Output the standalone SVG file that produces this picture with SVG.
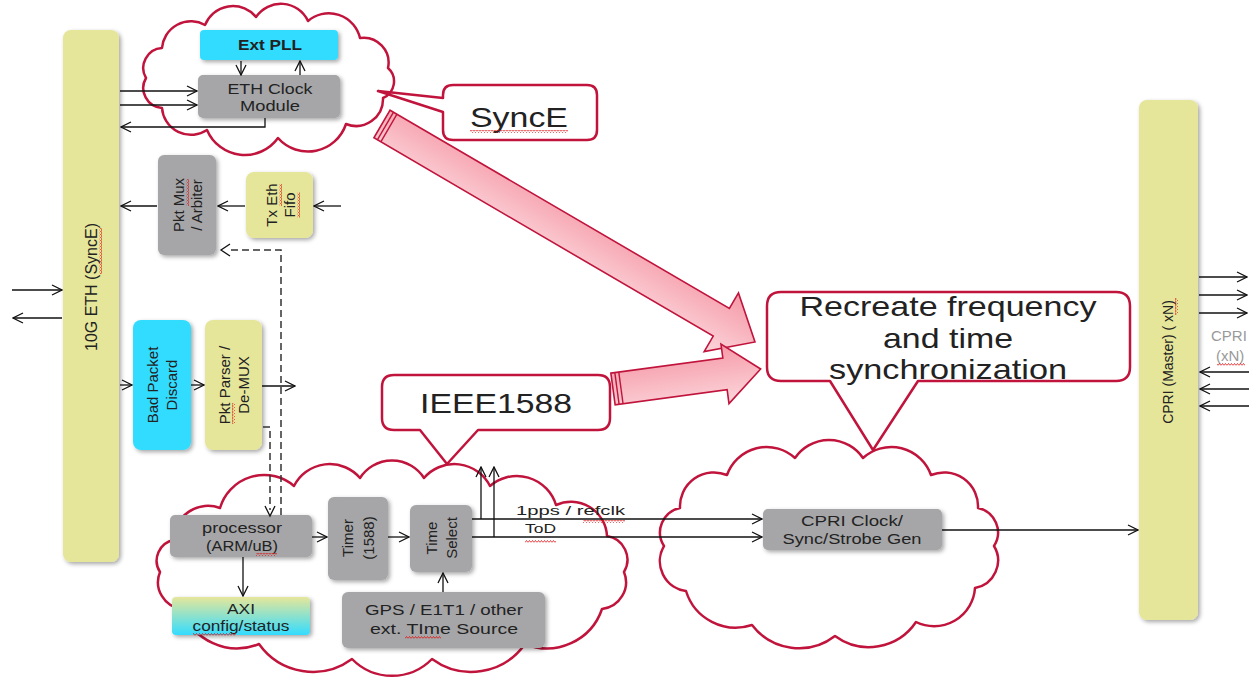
<svg xmlns="http://www.w3.org/2000/svg" width="1249" height="685" viewBox="0 0 1249 685">
<style>
.t{font-family:"Liberation Sans",Arial,sans-serif;fill:#222;font-size:14px}
.r{font-size:15px}
.big{font-family:"Liberation Sans",Arial,sans-serif;fill:#222;font-size:28px}
.cloud{fill:none;stroke:#c0143c;stroke-width:2.5;stroke-linejoin:round}
.callout{fill:#fff;stroke:#c0143c;stroke-width:2.5;stroke-linejoin:round}
.gray{fill:#a6a6a8;filter:url(#sh)}
.cyan{fill:#33dcff;filter:url(#sh)}
.yel{fill:#e6e69a;filter:url(#sh)}
.ln{fill:none;stroke:#111;stroke-width:1.3}
.arr{marker-end:url(#ah)}
.dash{fill:none;stroke:#333;stroke-width:1.5;stroke-dasharray:7 4}
.pink{fill:url(#pg);stroke:#c0143c;stroke-width:1.6;stroke-linejoin:miter}
.sq{fill:url(#sqp)}
</style>
<defs>
<filter id="sh" x="-20%" y="-20%" width="140%" height="140%">
<feDropShadow dx="2" dy="2" stdDeviation="2" flood-color="#000" flood-opacity="0.35"/>
</filter>
<marker id="ah" viewBox="0 0 12 12" refX="11" refY="6" markerWidth="12" markerHeight="12" markerUnits="userSpaceOnUse" orient="auto">
<path d="M1,1 L11,6 L1,11" fill="none" stroke="#111" stroke-width="1.3"/>
</marker>
<linearGradient id="pg" x1="0" y1="0" x2="0" y2="1">
<stop offset="0" stop-color="#f59aa7"/>
<stop offset="1" stop-color="#fcd6dc"/>
</linearGradient>
<linearGradient id="axi" x1="0" y1="0" x2="0" y2="1">
<stop offset="0" stop-color="#e6e69a"/>
<stop offset="1" stop-color="#33dcff"/>
</linearGradient>
<pattern id="sqp" width="3" height="3" patternUnits="userSpaceOnUse">
<path d="M0,2.5 L1.5,0.5 L3,2.5" fill="none" stroke="#e01010" stroke-width="0.8"/>
</pattern>
</defs>
<rect width="1249" height="685" fill="#fff"/>

<!-- clouds -->
<g id="clouds">
<path id="cloud-top" class="cloud" d="M146,78 A20,20 0 0 1 162,48 A29,29 0 0 1 205,25 A30,30 0 0 1 256,17 A30,30 0 0 1 308,21 A32,32 0 0 1 360,38 A25,25 0 0 1 388,68 A18,18 0 0 1 383,98 A27,27 0 0 1 346,124 A40,40 0 0 1 278,138 A41,41 0 0 1 207,130 A29,29 0 0 1 162,108 A20,20 0 0 1 146,78 Z"/>
<path id="cloud-bl" class="cloud" d="M160,572 A21,21 0 0 1 174,540 A34,34 0 0 1 220,508 A46,46 0 0 1 294,486 A40,40 0 0 1 360,478 A38,38 0 0 1 424,478 A40,40 0 0 1 490,486 A41,41 0 0 1 556,505 A36,36 0 0 1 607,536 A24,24 0 0 1 624,572 A27,27 0 0 1 602,609 A58,58 0 0 1 525,644 A66,66 0 0 1 432,659 A56,56 0 0 1 352,659 A66,66 0 0 1 259,644 A58,58 0 0 1 182,609 A27,27 0 0 1 160,572 Z"/>
<path id="cloud-r" class="cloud" d="M664,546 A25,25 0 0 1 680,508 A34,34 0 0 1 727,475 A42,42 0 0 1 795,458 A41,41 0 0 1 863,458 A42,42 0 0 1 931,475 A34,34 0 0 1 978,508 A25,25 0 0 1 994,546 A28,28 0 0 1 975,588 A41,41 0 0 1 916,622 A57,57 0 0 1 835,636 A59,59 0 0 1 752,625 A52,52 0 0 1 686,591 A30,30 0 0 1 664,546 Z"/>
</g>

<!-- big pink arrows -->
<g id="pink-arrows">
<g transform="translate(382,124) rotate(30.3)">
<polygon class="pink" points="0,-16 393,-16 393,-34 432,0 393,34 393,16 0,16"/>
<line x1="4" y1="-16" x2="4" y2="16" stroke="#c0143c" stroke-width="1.4"/>
<line x1="8" y1="-16" x2="8" y2="16" stroke="#c0143c" stroke-width="1.4"/>
</g>
<g transform="translate(613,389) rotate(-7.7)">
<polygon class="pink" points="0,-16 113,-16 113,-30 149,0 113,30 113,16 0,16"/>
<line x1="4" y1="-16" x2="4" y2="16" stroke="#c0143c" stroke-width="1.4"/>
<line x1="8" y1="-16" x2="8" y2="16" stroke="#c0143c" stroke-width="1.4"/>
</g>
</g>

<!-- callouts -->
<g id="callout-synce">
<path class="callout" d="M453,85 H587 Q597,85 597,95 V130 Q597,140 587,140 H453 Q443,140 443,130 V112 L378,91 L443,98 V95 Q443,85 453,85 Z"/>
<text class="big" x="519" y="127" text-anchor="middle" textLength="98" lengthAdjust="spacingAndGlyphs">SyncE</text>
<rect class="sq" x="470" y="130" width="98" height="3"/>
</g>
<g id="callout-ieee">
<path class="callout" d="M394,375 H598 Q610,375 610,387 V418 Q610,430 598,430 H478 L447,464 L420,430 H394 Q382,430 382,418 V387 Q382,375 394,375 Z"/>
<text class="big" x="496" y="413" text-anchor="middle" textLength="152" lengthAdjust="spacingAndGlyphs">IEEE1588</text>
</g>
<g id="callout-recreate">
<path class="callout" d="M781,292 H1116 Q1130,292 1130,306 V367 Q1130,381 1116,381 H918 L873,450 L830,381 H781 Q767,381 767,367 V306 Q767,292 781,292 Z"/>
<text class="big" x="948" y="316" text-anchor="middle" textLength="297" lengthAdjust="spacingAndGlyphs">Recreate frequency</text>
<text class="big" x="948" y="348" text-anchor="middle" textLength="130" lengthAdjust="spacingAndGlyphs">and time</text>
<text class="big" x="948" y="379" text-anchor="middle" textLength="238" lengthAdjust="spacingAndGlyphs">synchronization</text>
</g>

<!-- nodes -->
<g id="eth-bar">
<rect class="yel" x="63" y="30" width="56" height="532" rx="8"/>
<g transform="translate(91,287) rotate(-90)">
<text class="t" x="0" y="5.5" text-anchor="middle" style="font-size:16px">10G ETH (SyncE)</text>
<rect class="sq" x="13" y="8" width="46" height="3"/>
</g>
</g>
<g id="ext-pll">
<rect class="cyan" x="200" y="30" width="138" height="30" rx="4"/>
<text class="t" x="270" y="50" text-anchor="middle" font-weight="bold" textLength="64" lengthAdjust="spacingAndGlyphs">Ext PLL</text>
</g>
<g id="eth-clock">
<rect class="gray" x="198" y="75" width="142" height="43" rx="5"/>
<text class="t" x="270" y="94" text-anchor="middle" textLength="85" lengthAdjust="spacingAndGlyphs">ETH Clock</text>
<text class="t" x="270" y="111" text-anchor="middle" textLength="60" lengthAdjust="spacingAndGlyphs">Module</text>
</g>
<g id="pkt-mux">
<rect class="gray" x="158" y="155" width="58" height="100" rx="6"/>
<g transform="translate(187,205) rotate(-90)">
<text class="t r" x="0" y="-3" text-anchor="middle">Pkt Mux</text>
<text class="t r" x="0" y="15" text-anchor="middle">/ Arbiter</text>
<rect class="sq" x="-1" y="-1" width="27" height="3"/>
</g>
</g>
<g id="tx-fifo">
<rect class="yel" x="246" y="172" width="67" height="66" rx="8"/>
<g transform="translate(280,205) rotate(-90)">
<text class="t r" x="0" y="-3" text-anchor="middle">Tx Eth</text>
<text class="t r" x="0" y="15" text-anchor="middle">Fifo</text>
<rect class="sq" x="-1" y="-1" width="22" height="3"/>
<rect class="sq" x="-12.5" y="17" width="25" height="3"/>
</g>
</g>
<g id="bad-packet">
<rect class="cyan" x="133" y="320" width="58" height="130" rx="8"/>
<g transform="translate(162,385) rotate(-90)">
<text class="t r" x="0" y="-4" text-anchor="middle">Bad Packet</text>
<text class="t r" x="0" y="15" text-anchor="middle">Discard</text>
</g>
</g>
<g id="pkt-parser">
<rect class="yel" x="205" y="320" width="57" height="130" rx="8"/>
<g transform="translate(234,385) rotate(-90)">
<text class="t r" x="0" y="-4" text-anchor="middle">Pkt Parser /</text>
<text class="t r" x="0" y="15" text-anchor="middle">De-MUX</text>
<rect class="sq" x="-39" y="-2" width="21" height="3"/>
</g>
</g>
<g id="processor">
<rect class="gray" x="170" y="515" width="142" height="42" rx="5"/>
<text class="t" x="242" y="533" text-anchor="middle" textLength="80" lengthAdjust="spacingAndGlyphs">processor</text>
<text class="t" x="242" y="551" text-anchor="middle" textLength="72" lengthAdjust="spacingAndGlyphs">(ARM/uB)</text>
<rect class="sq" x="256" y="553" width="21" height="3"/>
</g>
<g id="timer">
<rect class="gray" x="328" y="497" width="60" height="83" rx="6"/>
<g transform="translate(358,538) rotate(-90)">
<text class="t r" x="0" y="-5" text-anchor="middle">Timer</text>
<text class="t r" x="0" y="16" text-anchor="middle">(1588)</text>
</g>
</g>
<g id="time-select">
<rect class="gray" x="410" y="505" width="62" height="67" rx="6"/>
<g transform="translate(442,538) rotate(-90)">
<text class="t r" x="0" y="-5" text-anchor="middle">Time</text>
<text class="t r" x="0" y="15" text-anchor="middle">Select</text>
</g>
</g>
<g id="axi">
<rect x="172" y="597" width="138" height="38" rx="4" fill="url(#axi)" filter="url(#sh)"/>
<text class="t" x="241" y="614" text-anchor="middle" textLength="28" lengthAdjust="spacingAndGlyphs">AXI</text>
<text class="t" x="241" y="631" text-anchor="middle" textLength="97" lengthAdjust="spacingAndGlyphs">config/status</text>
<rect class="sq" x="193" y="633" width="43" height="3"/>
</g>
<g id="gps">
<rect class="gray" x="342" y="592" width="203" height="56" rx="6"/>
<text class="t" x="444" y="615" text-anchor="middle" textLength="158" lengthAdjust="spacingAndGlyphs">GPS / E1T1 / other</text>
<text class="t" x="444" y="634" text-anchor="middle" textLength="148" lengthAdjust="spacingAndGlyphs">ext. TIme Source</text>
<rect class="sq" x="405" y="636" width="36" height="3"/>
</g>
<g id="cpri-clock">
<rect class="gray" x="763" y="509" width="179" height="41" rx="5"/>
<text class="t" x="852" y="526" text-anchor="middle" textLength="102" lengthAdjust="spacingAndGlyphs">CPRI Clock/</text>
<text class="t" x="852" y="544" text-anchor="middle" textLength="139" lengthAdjust="spacingAndGlyphs">Sync/Strobe Gen</text>
</g>
<g id="cpri-bar">
<rect class="yel" x="1139" y="100" width="59" height="520" rx="8"/>
<g transform="translate(1168,362) rotate(-90)">
<text class="t" x="0" y="5" text-anchor="middle">CPRI (Master) ( xN)</text>
<rect class="sq" x="47" y="7" width="17" height="3"/>
</g>
</g>
<g id="cpri-ext">
<text class="t" x="1211" y="341" style="font-size:15px;fill:#999">CPRI</text>
<text class="t" x="1216" y="361" style="font-size:15px;fill:#999">(xN)</text>
<rect class="sq" x="1217" y="363" width="28" height="3"/>
</g>

<!-- connectors -->
<g id="connectors">
<line class="ln arr" x1="12" y1="290" x2="62" y2="290"/>
<line class="ln arr" x1="62" y1="318" x2="13" y2="318"/>
<line class="ln arr" x1="120" y1="91" x2="197" y2="91"/>
<line class="ln arr" x1="120" y1="105" x2="197" y2="105"/>
<path class="ln arr" d="M265,118 V127 H121"/>
<line class="ln arr" x1="241" y1="61" x2="241" y2="75"/>
<line class="ln arr" x1="300" y1="75" x2="300" y2="61"/>
<line class="ln arr" x1="157" y1="206" x2="121" y2="206"/>
<line class="ln arr" x1="245" y1="206" x2="218" y2="206"/>
<line class="ln arr" x1="341" y1="206" x2="314" y2="206"/>
<path class="dash" d="M281,515 V250 H228"/>
<path class="ln" d="M230,244 L221,250 L230,256" stroke="#333"/>
<path class="dash" d="M263,427 H270 V510"/>
<path class="ln" d="M265,506 L270,516 L275,506"/>
<line class="ln arr" x1="120" y1="385" x2="132" y2="385"/>
<line class="ln arr" x1="191" y1="385" x2="204" y2="385"/>
<line class="ln arr" x1="262" y1="386" x2="295" y2="386"/>
<line class="ln arr" x1="312" y1="537" x2="327" y2="537"/>
<line class="ln arr" x1="388" y1="537" x2="409" y2="537"/>
<line class="ln arr" x1="243" y1="557" x2="243" y2="596"/>
<line class="ln arr" x1="443" y1="592" x2="443" y2="573"/>
<line class="ln arr" x1="472" y1="519" x2="762" y2="519"/>
<line class="ln arr" x1="472" y1="537" x2="762" y2="537"/>
<path class="ln arr" d="M481,519 V467"/>
<path class="ln arr" d="M494,537 V467"/>
<line class="ln arr" x1="942" y1="530" x2="1138" y2="530"/>
<line class="ln arr" x1="1199" y1="277" x2="1247" y2="277"/>
<line class="ln arr" x1="1199" y1="295" x2="1247" y2="295"/>
<line class="ln arr" x1="1199" y1="313" x2="1247" y2="313"/>
<line class="ln arr" x1="1249" y1="372" x2="1200" y2="372"/>
<line class="ln arr" x1="1249" y1="389" x2="1200" y2="389"/>
<line class="ln arr" x1="1249" y1="406" x2="1200" y2="406"/>
<text class="t" x="516" y="515" textLength="109" lengthAdjust="spacingAndGlyphs" style="font-size:13px">1pps / refclk</text>
<rect class="sq" x="583" y="520" width="42" height="3"/>
<text class="t" x="525" y="533" textLength="31" lengthAdjust="spacingAndGlyphs" style="font-size:13px">ToD</text>
<rect class="sq" x="525" y="540" width="31" height="3"/>
</g>
</svg>
